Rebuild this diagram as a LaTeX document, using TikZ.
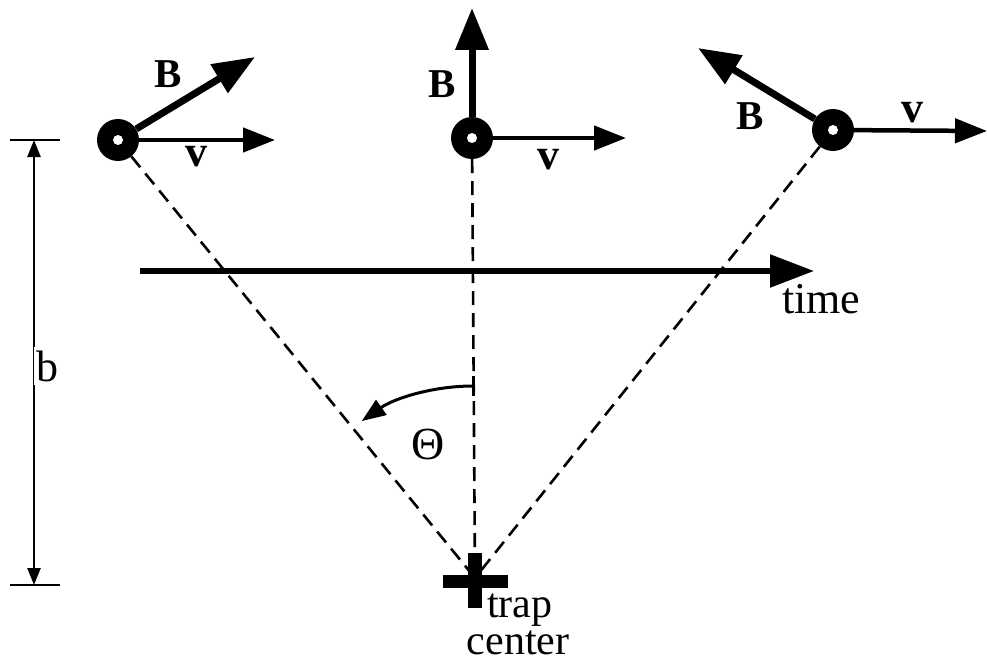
\documentclass[tikz,border=0pt]{standalone}
\usepackage{fontspec}
\setmainfont{Liberation Serif}
\usetikzlibrary{arrows.meta}
\begin{document}
\begin{tikzpicture}[x=1pt,y=-1pt,
  particle/.style={circle,fill=black,minimum size=42pt,inner sep=0pt},
  Barrow/.style={line width=7pt,-{Triangle[length=42pt,width=32pt]}},
  varrow/.style={line width=4.5pt,-{Triangle[length=32pt,width=24pt]}},
  timearrow/.style={line width=5.5pt,-{Triangle[length=44pt,width=32pt]}},
  dimarrow/.style={line width=2.5pt,{Triangle[length=17pt,width=13pt]}-{Triangle[length=17pt,width=13pt]}},
  dashline/.style={line width=2.6pt,dash pattern=on 14pt off 8pt},
  lbl/.style={font=\fontsize{44}{44}\selectfont,inner sep=0pt},
  tlbl/.style={font=\fontsize{42}{42}\selectfont,inner sep=0pt},
  blbl/.style={font=\fontsize{41}{41}\selectfont\bfseries,inner sep=0pt}]
\useasboundingbox (0,0) rectangle (987,666);

% trap center
\coordinate (tc) at (475,578);
% particles
\node[particle] (p1) at (118,140) {};
\node[particle] (p2) at (472,138) {};
\node[particle] (p3) at (833,130) {};

% dashed lines
\draw[dashline] (p1) -- (tc);
\draw[dashline] (p2) -- (tc);
\draw[dashline] (p3) -- (tc);

% cross
\fill (443,575) rectangle (508,588);
\fill (468,553) rectangle (482,608);

% arrow tips
\coordinate (b1) at (255,57);
\coordinate (v1) at (275,140);
\coordinate (b2) at (472,8);
\coordinate (v2) at (626,138);
\coordinate (b3) at (698,48);
\coordinate (v3) at (987,131);

\draw[Barrow] (p1) -- (b1);
\draw[varrow] (p1) -- (v1);
\draw[Barrow] (p2) -- (b2);
\draw[varrow] (p2) -- (v2);
\draw[Barrow] (p3) -- (b3);
\draw[varrow] (p3) -- (v3);

% holes
\fill[white] (p1.center) circle (5);
\fill[white] (p2.center) circle (5);
\fill[white] (p3.center) circle (5);

% labels
\node[blbl] (B1) at (168,74) {B};
\node[lbl] (V1) at (196,157) {\bfseries v};
\node[blbl] (B2) at (442,84) {B};
\node[lbl] (V2) at (548,160) {\bfseries v};
\node[blbl] (B3) at (750,116) {B};
\node[lbl] (V3) at (912,113) {\bfseries v};

% time axis
\coordinate (t0) at (140,271);
\coordinate (t1) at (814,271);
\draw[timearrow] (t0) -- (t1);
\node[lbl,anchor=base west] (time) at (782,313) {time};

% b dimension
\coordinate (d0) at (34,140);
\coordinate (d1) at (34,585);
\draw[line width=2.5pt] (10,140) -- (60,140);
\draw[line width=2.5pt] (10,585) -- (60,585);
\draw[dimarrow] (d0) -- (d1);
\node[lbl,fill=white,inner xsep=2pt,inner ysep=4pt] (blab) at (47,366) {b};

% theta arc
\coordinate (a0) at (473,386);
\draw[line width=3pt,-{Triangle[length=24pt,width=18pt]}] (a0) arc[start angle=-90,end angle=-125,radius=194];
\draw[line width=3pt] (473,376) -- (473,396);
\node[lbl,font=\fontsize{46}{46}\selectfont] (theta) at (428,444) {Θ};

% trap center label
\node[tlbl,anchor=base west] (trap) at (487,617) {trap};
\node[tlbl,anchor=base] (center) at (518,654) {center};
\end{tikzpicture}
\end{document}
